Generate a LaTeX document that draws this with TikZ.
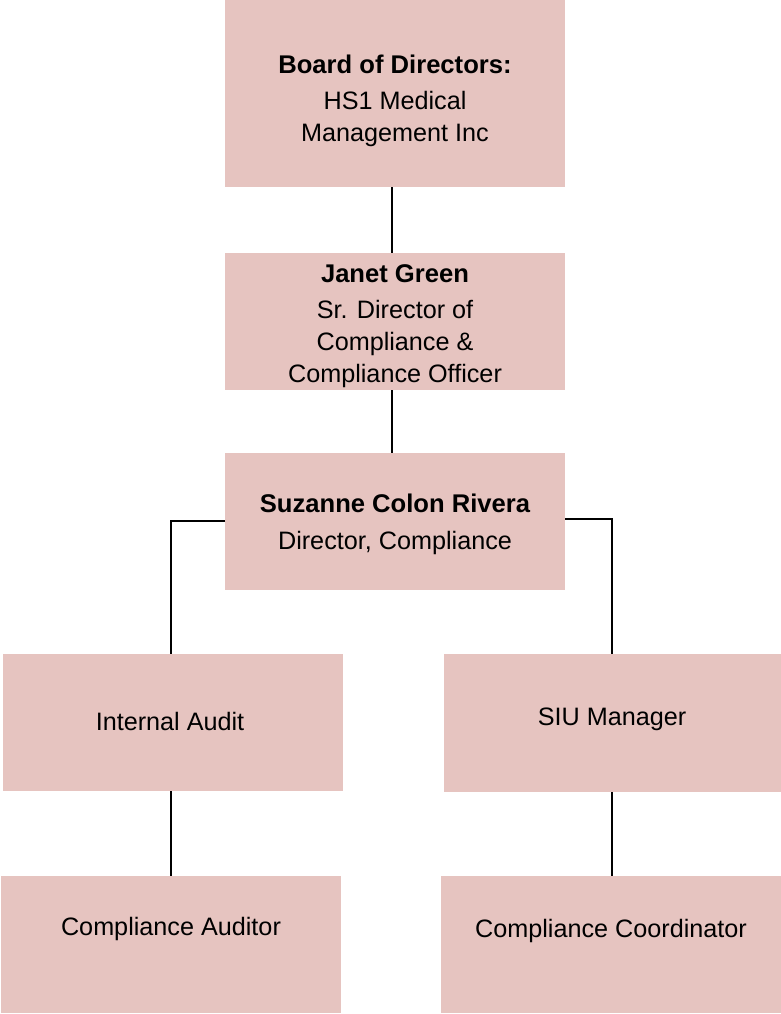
\documentclass[tikz,border=0pt]{standalone}
\usepackage{fontspec}
\setmainfont{Liberation Sans}
\definecolor{boxfill}{HTML}{E6C4C0}
\begin{document}
\begin{tikzpicture}[x=1pt,y=-1pt,
  box/.style={fill=boxfill,draw=none,inner sep=0pt,outer sep=0pt},
  txt/.style={anchor=base,inner sep=0pt,font=\fontsize{25.2}{30}\selectfont},
  btxt/.style={anchor=base,inner sep=0pt,font=\fontsize{25.6}{30}\selectfont\bfseries},
  conn/.style={line width=2pt,black}]
\useasboundingbox (0,0) rectangle (781,1014);
% boxes
\node[box,minimum width=340pt,minimum height=187pt] (board) at (395,93.5) {};
\node[box,minimum width=340pt,minimum height=137pt] (janet) at (395,321.5) {};
\node[box,minimum width=340pt,minimum height=137pt] (suz) at (395,521.5) {};
\node[box,minimum width=340pt,minimum height=137pt] (ia) at (173,722.5) {};
\node[box,minimum width=337pt,minimum height=138pt] (siu) at (612.5,723) {};
\node[box,minimum width=340pt,minimum height=137pt] (ca) at (171,944.5) {};
\node[box,minimum width=340pt,minimum height=137pt] (cc) at (611,944.5) {};
% texts
\node[btxt] (t1) at (395,74) {Board of Directors:};
\node[txt] (t2) at (395,110) {HS1 Medical};
\node[txt] (t3) at (395,142) {Management Inc};
\node[btxt] (t4) at (395,282) {Janet Green};
\node[txt] (t5) at (395,318) {Sr. Director of};
\node[txt] (t6) at (395,350) {Compliance \&};
\node[txt] (t7) at (395,382) {Compliance Officer};
\node[btxt] (t8) at (395,512) {Suzanne Colon Rivera};
\node[txt] (t9) at (395,549) {Director, Compliance};
\node[txt] (t10) at (170,730) {Internal Audit};
\node[txt] (t11) at (612,725) {SIU Manager};
\node[txt] (t12) at (171,935) {Compliance Auditor};
\node[txt] (t13) at (611,937) {Compliance Coordinator};
% connectors
\coordinate (sl) at (171,521);
\coordinate (sr) at (612,519);
\draw[conn] (board.south -| 392,0) -- (janet.north -| 392,0);
\draw[conn] (janet.south -| 392,0) -- (suz.north -| 392,0);
\draw[conn] (suz.west |- sl) -- (sl) -- (ia.north -| sl);
\draw[conn] (suz.east |- sr) -- (sr) -- (siu.north -| sr);
\draw[conn] (ia.south -| sl) -- (ca.north -| sl);
\draw[conn] (siu.south -| sr) -- (cc.north -| sr);
\end{tikzpicture}
\end{document}
